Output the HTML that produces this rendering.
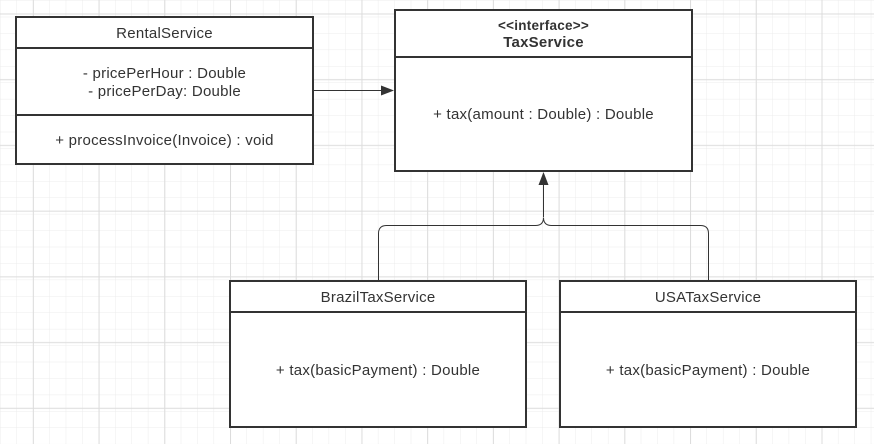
<!DOCTYPE html>
<html><head><meta charset="utf-8"><style>
html,body{margin:0;padding:0;background:#fff;}
svg{display:block;}
text{font-family:"Liberation Sans",sans-serif;font-size:15px;letter-spacing:0.25px;fill:#333;}
</style></head><body>
<svg width="874" height="444" viewBox="0 0 874 444" xmlns="http://www.w3.org/2000/svg">
<defs>
<pattern id="minor" x="0.5" y="0.8" width="16.43" height="16.43" patternUnits="userSpaceOnUse">
<path d="M16.43 0V16.43M0 16.43H16.43" stroke="#ececec" stroke-width="1" fill="none"/>
</pattern>
<pattern id="major" x="0.5" y="0.8" width="65.72" height="65.72" patternUnits="userSpaceOnUse">
<path d="M32.86 0V65.72M0 13.14H65.72" stroke="#dcdcdc" stroke-width="1" fill="none"/>
</pattern>
</defs>
<rect width="874" height="444" fill="#fff"/>
<rect width="874" height="444" fill="url(#minor)"/>
<rect width="874" height="444" fill="url(#major)"/>

<g stroke="#333" stroke-width="2" fill="#fff">
<rect x="16" y="17" width="297" height="147"/>
<line x1="16" y1="48" x2="313" y2="48"/>
<line x1="16" y1="115" x2="313" y2="115"/>
<rect x="395" y="10" width="297" height="161"/>
<line x1="395" y1="57" x2="692" y2="57"/>
<rect x="230" y="281" width="296" height="146"/>
<line x1="230" y1="312" x2="526" y2="312"/>
<rect x="560" y="281" width="296" height="146"/>
<line x1="560" y1="312" x2="856" y2="312"/>
</g>

<g stroke="#333" stroke-width="1" fill="none">
<line x1="313" y1="90.5" x2="382" y2="90.5"/>
<path d="M378.5 281V233.5Q378.5 225.5 386.5 225.5H535.5Q543.5 225.5 543.5 217.5Q543.5 225.5 551.5 225.5H700.5Q708.5 225.5 708.5 233.5V281"/>
<line x1="543.5" y1="217" x2="543.5" y2="185"/>
</g>
<polygon points="394,90.5 381,85.5 381,95.5" fill="#333"/>
<polygon points="543.5,172 538.5,185 548.5,185" fill="#333"/>

<text x="164.5" y="38" text-anchor="middle">RentalService</text>
<text x="164.5" y="78" text-anchor="middle">- pricePerHour : Double</text>
<text x="164.5" y="96" text-anchor="middle">- pricePerDay: Double</text>
<text x="164.5" y="145" text-anchor="middle">+ processInvoice(Invoice) : void</text>
<text x="543.5" y="30" text-anchor="middle" style="font-weight:bold;font-size:13.5px">&lt;&lt;interface&gt;&gt;</text>
<text x="543.5" y="47" text-anchor="middle" style="font-weight:bold">TaxService</text>
<text x="543.5" y="119" text-anchor="middle">+ tax(amount : Double) : Double</text>
<text x="378" y="302" text-anchor="middle">BrazilTaxService</text>
<text x="378" y="375" text-anchor="middle">+ tax(basicPayment) : Double</text>
<text x="708" y="302" text-anchor="middle">USATaxService</text>
<text x="708" y="375" text-anchor="middle">+ tax(basicPayment) : Double</text>
</svg>
</body></html>
